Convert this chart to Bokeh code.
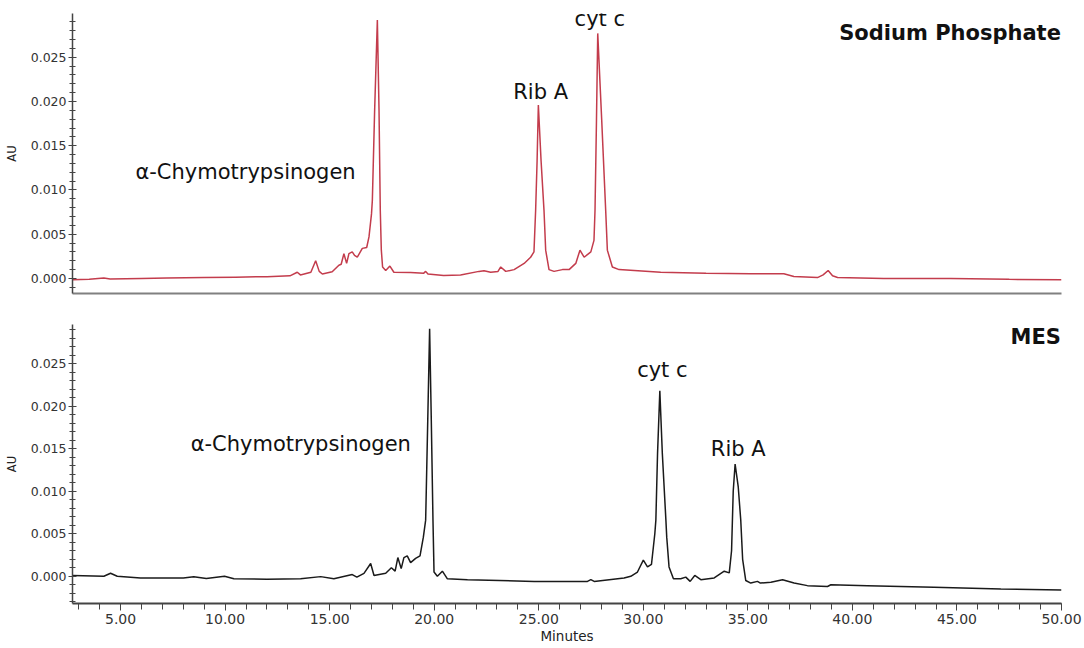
from bokeh.plotting import figure
from bokeh.models import Range1d, SingleIntervalTicker, FixedTicker, NumeralTickFormatter, Label
from bokeh.layouts import column
from bokeh.embed import file_html
from bokeh.resources import INLINE

# ---- data (minutes, AU) ----
t_sodium = [2.7, 3.5, 4.2, 4.5, 6.0, 7.2, 9.0, 10.5, 12.0, 13.1, 13.45, 13.6, 14.1, 14.33, 14.5,
            14.65, 15.12, 15.44, 15.55, 15.68, 15.81, 15.92, 16.08, 16.19, 16.32, 16.56, 16.77,
            16.88, 17.0, 17.04, 17.15, 17.28, 17.36, 17.42, 17.47, 17.53, 17.68, 17.88, 18.07,
            18.87, 19.5, 19.59, 19.7, 20.45, 21.26, 22.14, 22.38, 22.7, 23.05, 23.18, 23.42,
            23.82, 24.3, 24.61, 24.77, 24.85, 24.92, 24.98, 25.11, 25.25, 25.33, 25.49, 25.73,
            26.13, 26.45, 26.77, 26.97, 27.17, 27.49, 27.64, 27.69, 27.76, 27.82, 28.01, 28.2,
            28.28, 28.52, 28.84, 30.83, 33.0, 35.14, 36.72, 37.2, 38.33, 38.6, 38.84, 39.05,
            39.29, 41.5, 44.7, 47.5, 50.0]
au_sodium = [-0.00015, -0.0001, 0.00005, -0.00005, 0.0, 0.00004, 0.0001, 0.00015, 0.0002, 0.0003,
             0.0007, 0.0004, 0.0007, 0.0020, 0.0008, 0.0005, 0.00075, 0.0015, 0.0016, 0.0028,
             0.0017, 0.0028, 0.0030, 0.0026, 0.0024, 0.0034, 0.0035, 0.0047, 0.0073, 0.0088,
             0.0190, 0.0292, 0.0190, 0.0077, 0.0032, 0.0013, 0.0009, 0.0014, 0.0007, 0.00068,
             0.0006, 0.0008, 0.0005, 0.00034, 0.0004, 0.0008, 0.00087, 0.0007, 0.0008, 0.0013,
             0.0008, 0.0010, 0.0017, 0.0024, 0.0030, 0.0077, 0.0133, 0.0196, 0.0133, 0.0077,
             0.0032, 0.0010, 0.0008, 0.0010, 0.0010, 0.0017, 0.0032, 0.0024, 0.0030, 0.0043,
             0.0077, 0.0179, 0.0277, 0.0179, 0.0077, 0.0032, 0.0013, 0.0010, 0.0007, 0.0006,
             0.00053, 0.00053, 0.00023, 0.0001, 0.0004, 0.0009, 0.0003, 0.0001, 0.0, 0.0,
             -0.0001, -0.00015]

t_mes = [2.7, 4.2, 4.52, 4.84, 5.95, 8.0, 8.5, 9.1, 9.97, 10.42, 12.0, 13.61, 14.57, 15.2, 16.08,
         16.3, 16.64, 16.96, 17.12, 17.68, 17.95, 18.13, 18.26, 18.42, 18.55, 18.71, 18.87, 19.11,
         19.32, 19.48, 19.59, 19.69, 19.78, 19.86, 19.94, 19.99, 20.15, 20.39, 20.63, 21.59, 24.78,
         27.33, 27.49, 27.65, 29.08, 29.4, 29.72, 30.0, 30.2, 30.39, 30.55, 30.6, 30.68, 30.79,
         30.91, 31.08, 31.12, 31.23, 31.44, 31.79, 32.03, 32.24, 32.46, 32.75, 33.39, 33.87, 34.11,
         34.22, 34.3, 34.39, 34.54, 34.66, 34.75, 34.9, 35.14, 35.46, 35.6, 36.1, 36.66, 37.21,
         37.85, 38.81, 38.97, 40.72, 43.9, 47.1, 50.0]
au_mes = [0.0001, 0.0, 0.00035, 0.0, -0.0002, -0.0002, -0.00005, -0.00025, 0.0, -0.0003, -0.00035,
          -0.0003, -0.00004, -0.0003, 0.0002, -0.0001, 0.00035, 0.0015, 0.0001, 0.00035, 0.0010,
          0.0006, 0.0022, 0.0009, 0.0022, 0.0024, 0.0016, 0.0021, 0.0024, 0.0046, 0.0066, 0.0183,
          0.0291, 0.0183, 0.0066, 0.0005, 0.0, 0.0006, -0.0003, -0.0004, -0.0006, -0.0006,
          -0.0004, -0.0006, -0.0002, 0.0, 0.0005, 0.0019, 0.0011, 0.0014, 0.0050, 0.0066, 0.0144,
          0.0218, 0.0144, 0.0066, 0.0046, 0.0011, -0.0003, -0.0003, -0.0001, -0.0006, 0.0001,
          -0.0004, -0.0002, 0.0006, 0.0004, 0.0030, 0.0100, 0.0132, 0.0105, 0.0066, 0.0020,
          -0.0005, -0.0008, -0.0006, -0.0008, -0.0007, -0.0004, -0.0008, -0.0011, -0.0012,
          -0.0010, -0.0011, -0.0013, -0.0015, -0.0016]

FONT = "DejaVu Sans"
TICK_COLOR = "#333333"
TEXT_COLOR = "#111111"


def style_y(p):
    ax = p.yaxis[0]
    ax.ticker = SingleIntervalTicker(interval=0.005, num_minor_ticks=5)
    ax.formatter = NumeralTickFormatter(format="0.000")
    ax.axis_label = "AU"
    ax.axis_label_text_font = FONT
    ax.axis_label_text_font_size = "11.5px"
    ax.axis_label_text_font_style = "normal"
    ax.axis_label_text_color = "#222222"
    ax.axis_label_standoff = 9
    ax.major_label_text_font = FONT
    ax.major_label_text_font_size = "12.5px"
    ax.major_label_text_color = TICK_COLOR
    ax.major_label_standoff = 2
    ax.axis_line_color = "#444444"
    ax.axis_line_width = 1.5
    ax.major_tick_line_color = "#444444"
    ax.minor_tick_line_color = "#444444"
    ax.major_tick_in = 4
    ax.major_tick_out = 4
    ax.minor_tick_in = 3
    ax.minor_tick_out = 3


def base_fig(height, top, bottom, ymin, ymax):
    p = figure(width=1084, height=height, output_backend="svg", toolbar_location=None,
               x_range=Range1d(2.7, 50.0), y_range=Range1d(ymin, ymax),
               min_border_left=72, min_border_right=23, min_border_top=top,
               min_border_bottom=bottom)
    p.outline_line_color = None
    p.xgrid.visible = False
    p.ygrid.visible = False
    style_y(p)
    return p


def add_text(p, x, y, text, size="21px", align="center", bold=False):
    p.add_layout(Label(x=x, y=y, text=text, text_font=FONT, text_font_size=size,
                       text_font_style="bold" if bold else "normal", text_align=align,
                       text_baseline="middle", text_color=TEXT_COLOR))


# ---- top: Sodium Phosphate ----
p1 = base_fig(306, 13, 13, -0.0017, 0.02995)
p1.line(t_sodium, au_sodium, line_color="#c33c4c", line_width=1.5)
xa = p1.xaxis[0]
xa.ticker = FixedTicker(ticks=[])
xa.axis_line_color = "#808080"
xa.axis_line_width = 2
xa.major_label_text_font_size = "0px"

add_text(p1, 49.97, 0.0278, "Sodium Phosphate", align="right", bold=True)
add_text(p1, 5.71, 0.0120, "α-Chymotrypsinogen", align="left")
add_text(p1, 25.09, 0.0211, "Rib A")
add_text(p1, 27.92, 0.0293, "cyt c")

# ---- bottom: MES ----
p2 = base_fig(342, 18, 45, -0.0032, 0.0296)
p2.line(t_mes, au_mes, line_color="#1a1a1a", line_width=1.5)
xb = p2.xaxis[0]
xb.ticker = SingleIntervalTicker(interval=5, num_minor_ticks=5)
xb.formatter = NumeralTickFormatter(format="0.00")
xb.axis_label = "Minutes"
xb.axis_label_text_font = FONT
xb.axis_label_text_font_size = "13.5px"
xb.axis_label_text_font_style = "normal"
xb.axis_label_text_color = "#222222"
xb.axis_label_standoff = 1
xb.major_label_text_font = FONT
xb.major_label_text_font_size = "14px"
xb.major_label_text_color = TICK_COLOR
xb.major_label_standoff = 3
xb.axis_line_color = "#444444"
xb.axis_line_width = 2
xb.major_tick_line_color = "#444444"
xb.minor_tick_line_color = "#444444"
xb.major_tick_in = 0
xb.major_tick_out = 7
xb.minor_tick_in = 0
xb.minor_tick_out = 6

add_text(p2, 49.97, 0.0281, "MES", align="right", bold=True)
add_text(p2, 8.35, 0.0155, "α-Chymotrypsinogen", align="left")
add_text(p2, 30.91, 0.0242, "cyt c")
add_text(p2, 34.54, 0.0150, "Rib A")

layout = column(p1, p2, spacing=0)
open("out.html", "w").write(file_html(layout, INLINE))
